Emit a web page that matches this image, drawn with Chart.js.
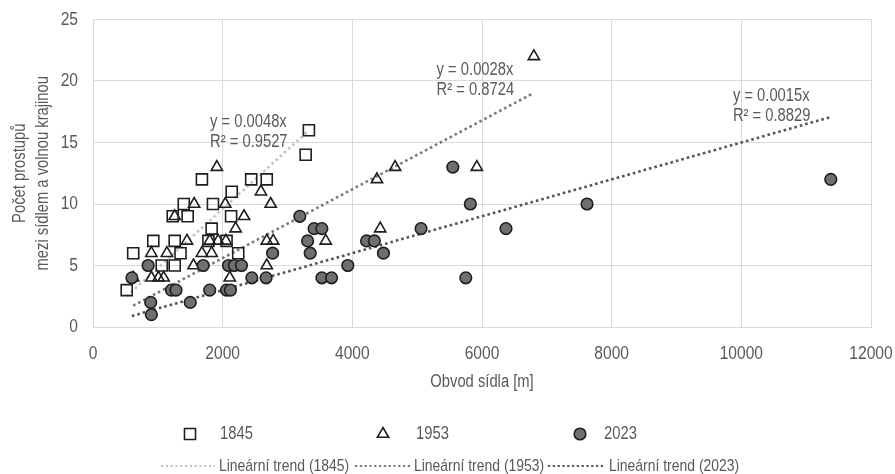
<!DOCTYPE html>
<html>
<head>
<meta charset="utf-8">
<script src="https://cdn.jsdelivr.net/npm/chart.js@4.4.0/dist/chart.umd.min.js"></script>
<style>
  html, body { margin:0; padding:0; background:#fff; }
  #wrap { width:895px; height:474px; }
</style>
</head>
<body>
<div id="wrap"><canvas id="chart" width="895" height="474"></canvas></div>
<script>
const FONT = "'Liberation Sans', Arial, sans-serif";
const GREY_TEXT = "#595959";
const NARROW = 0.82; // Arial Narrow look, no narrow face installed

// data
const years = ["1845", "1953", "2023"];
const perim1845 = [520, 620, 930, 1060, 1230, 1260, 1260, 1350, 1400, 1460, 1680, 1780, 1830, 1850, 2060, 2130, 2140, 2240, 2440, 2680, 3280, 3330];
const count1845 = [3, 6, 7, 5, 9, 7, 5, 6, 10, 9, 12, 7, 8, 10, 7, 9, 11, 6, 12, 12, 14, 16];
const perim1953 = [620, 900, 900, 1010, 1090, 1140, 1260, 1450, 1550, 1560, 1680, 1800, 1830, 1910, 1930, 2040, 2050, 2110, 2200, 2330, 2590, 2680, 2680, 2740, 2780, 3590, 4380, 4430, 4660, 5920, 6800];
const count1953 = [4, 4, 6, 4, 4, 6, 9, 7, 5, 10, 6, 7, 6, 13, 7, 10, 7, 4, 8, 9, 11, 5, 7, 10, 7, 7, 12, 8, 13, 13, 22];
const perim2023 = [600, 850, 890, 900, 1210, 1280, 1500, 1700, 1800, 2060, 2120, 2090, 2180, 2290, 2450, 2670, 2770, 3190, 3310, 3350, 3410, 3530, 3530, 3680, 3930, 4220, 4340, 4480, 5060, 5550, 5750, 5820, 6370, 7620, 11380];
const count2023 = [4, 5, 2, 1, 3, 3, 2, 5, 3, 3, 3, 5, 5, 5, 4, 4, 6, 9, 7, 6, 8, 8, 4, 4, 5, 7, 7, 6, 8, 13, 4, 10, 8, 10, 12];

// trendlines (through origin) as printed on the chart
const slopes = [0.0048, 0.0028, 0.0015];
const r2 = ["0.9527", "0.8724", "0.8829"];
const eqLabelX = [1805, 5300, 9870];
const eqLabelY = [16.7, 20.9, 18.8];

const xTicks = [0, 2000, 4000, 6000, 8000, 10000, 12000];
const yTicks = [0, 5, 10, 15, 20, 25];

const perims = [perim1845, perim1953, perim2023];
const counts = [count1845, count1953, count2023];
const styles = ["rect", "triangle", "circle"];
const radii = [7.8, 6.5, 5.8];
const fills = ["rgba(255,255,255,0)", "rgba(255,255,255,0)", "#6f6f6f"];
const trendColors = ["#c3c3c3", "#7a7a7a", "#555555"];

const canvas = document.getElementById("chart");
const c2d = canvas.getContext("2d");
// squeeze text horizontally so Liberation Sans reads like Arial Narrow
const baseFill = c2d.fillText.bind(c2d);
const baseMeasure = c2d.measureText.bind(c2d);
c2d.fillText = function (text, x, y) {
  this.save();
  this.translate(x, y);
  this.scale(NARROW, 1);
  baseFill(text, 0, 0);
  this.restore();
};
c2d.measureText = function (text) {
  const m = baseMeasure(text);
  return {
    width: m.width * NARROW,
    actualBoundingBoxAscent: m.actualBoundingBoxAscent,
    actualBoundingBoxDescent: m.actualBoundingBoxDescent
  };
};

const toPts = (xs, ys) => xs.map((x, i) => ({ x: x, y: ys[i] }));

const datasets = [];
years.forEach((yr, i) => {
  datasets.push({
    label: yr,
    type: "scatter",
    data: toPts(perims[i], counts[i]),
    pointStyle: styles[i],
    pointRadius: radii[i],
    pointHoverRadius: radii[i],
    pointBackgroundColor: fills[i],
    pointBorderColor: "#1e1e1e",
    pointBorderWidth: 1.6,
    order: 3 - i
  });
});
years.forEach((yr, i) => {
  const lo = Math.min(...perims[i]), hi = Math.max(...perims[i]);
  datasets.push({
    label: "Lineární trend (" + yr + ")",
    type: "line",
    data: [{ x: lo, y: slopes[i] * lo }, { x: hi, y: slopes[i] * hi }],
    borderColor: trendColors[i],
    borderWidth: 2.6,
    borderDash: [2.6, 3],
    pointRadius: 0,
    fill: false,
    order: 10 + i
  });
});

const trendLabels = {
  id: "trendLabels",
  afterDatasetsDraw(chart) {
    const { ctx, scales } = chart;
    ctx.save();
    ctx.font = "18px " + FONT;
    ctx.fillStyle = GREY_TEXT;
    ctx.textAlign = "left";
    ctx.textBaseline = "middle";
    slopes.forEach((s, i) => {
      const px = scales.x.getPixelForValue(eqLabelX[i]);
      const py = scales.y.getPixelForValue(eqLabelY[i]);
      ctx.fillText("y = " + s + "x", px, py);
      ctx.fillText("R\u00B2 = " + r2[i], px, py + 20);
    });
    ctx.restore();
  }
};

const customLegend = {
  id: "customLegend",
  afterDraw(chart) {
    const ctx = chart.ctx;
    ctx.save();
    const rowY = 434, row2Y = 466;
    const markX = [190, 383, 580];
    const textX = [220, 416, 604];
    ctx.textAlign = "left";
    ctx.textBaseline = "middle";
    years.forEach((yr, i) => {
      ctx.fillStyle = fills[i];
      ctx.strokeStyle = "#1e1e1e";
      ctx.lineWidth = 1.6;
      Chart.helpers.drawPoint(ctx, { pointStyle: styles[i], radius: radii[i], rotation: 0, borderWidth: 1.6 }, markX[i], rowY);
      ctx.fillStyle = GREY_TEXT;
      ctx.font = "18px " + FONT;
      ctx.fillText(yr, textX[i], rowY);
    });
    const segs = [[161, 215], [355, 410], [548, 605]];
    const segTextX = [219, 414, 609];
    years.forEach((yr, i) => {
      ctx.strokeStyle = trendColors[i];
      ctx.lineWidth = 2.2;
      ctx.setLineDash([2.2, 2.6]);
      ctx.beginPath();
      ctx.moveTo(segs[i][0], row2Y);
      ctx.lineTo(segs[i][1], row2Y);
      ctx.stroke();
      ctx.setLineDash([]);
      ctx.fillStyle = GREY_TEXT;
      ctx.font = "17px " + FONT;
      ctx.fillText("Lineární trend (" + yr + ")", segTextX[i], row2Y);
    });
    ctx.restore();
  }
};

new Chart(canvas, {
  data: { datasets },
  options: {
    responsive: false,
    animation: false,
    layout: { padding: { top: 19.5, right: 24, left: 0, bottom: 0 } },
    plugins: {
      legend: { display: false },
      tooltip: { enabled: false }
    },
    scales: {
      x: {
        type: "linear",
        min: 0,
        max: 12000,
        afterBuildTicks: (axis) => { axis.ticks = xTicks.map(v => ({ value: v })); },
        afterFit: (axis) => { axis.height = 147; axis.paddingLeft = 0; axis.paddingRight = 0; },
        grid: { color: "#d9d9d9", drawTicks: false },
        border: { color: "#d9d9d9" },
        ticks: { color: GREY_TEXT, font: { family: FONT, size: 19 }, padding: 15, maxRotation: 0, callback: v => String(v) },
        title: {
          display: true,
          text: "Obvod sídla [m]",
          color: GREY_TEXT,
          font: { family: FONT, size: 18 },
          padding: { top: 0, bottom: 81 }
        }
      },
      y: {
        type: "linear",
        min: 0,
        max: 25,
        afterBuildTicks: (axis) => { axis.ticks = yTicks.map(v => ({ value: v })); },
        afterFit: (axis) => { axis.width = 93; axis.paddingTop = 0; axis.paddingBottom = 0; },
        grid: { color: "#d9d9d9", drawTicks: false },
        border: { color: "#d9d9d9" },
        ticks: { color: GREY_TEXT, font: { family: FONT, size: 19 }, padding: 15, callback: v => String(v) },
        title: {
          display: true,
          text: ["Počet prostupů", "mezi sídlem a volnou krajinou"],
          color: GREY_TEXT,
          font: { family: FONT, size: 18, lineHeight: 1.28 },
          padding: { top: 8.5, bottom: 0 }
        }
      }
    }
  },
  plugins: [trendLabels, customLegend]
});
</script>
</body>
</html>
